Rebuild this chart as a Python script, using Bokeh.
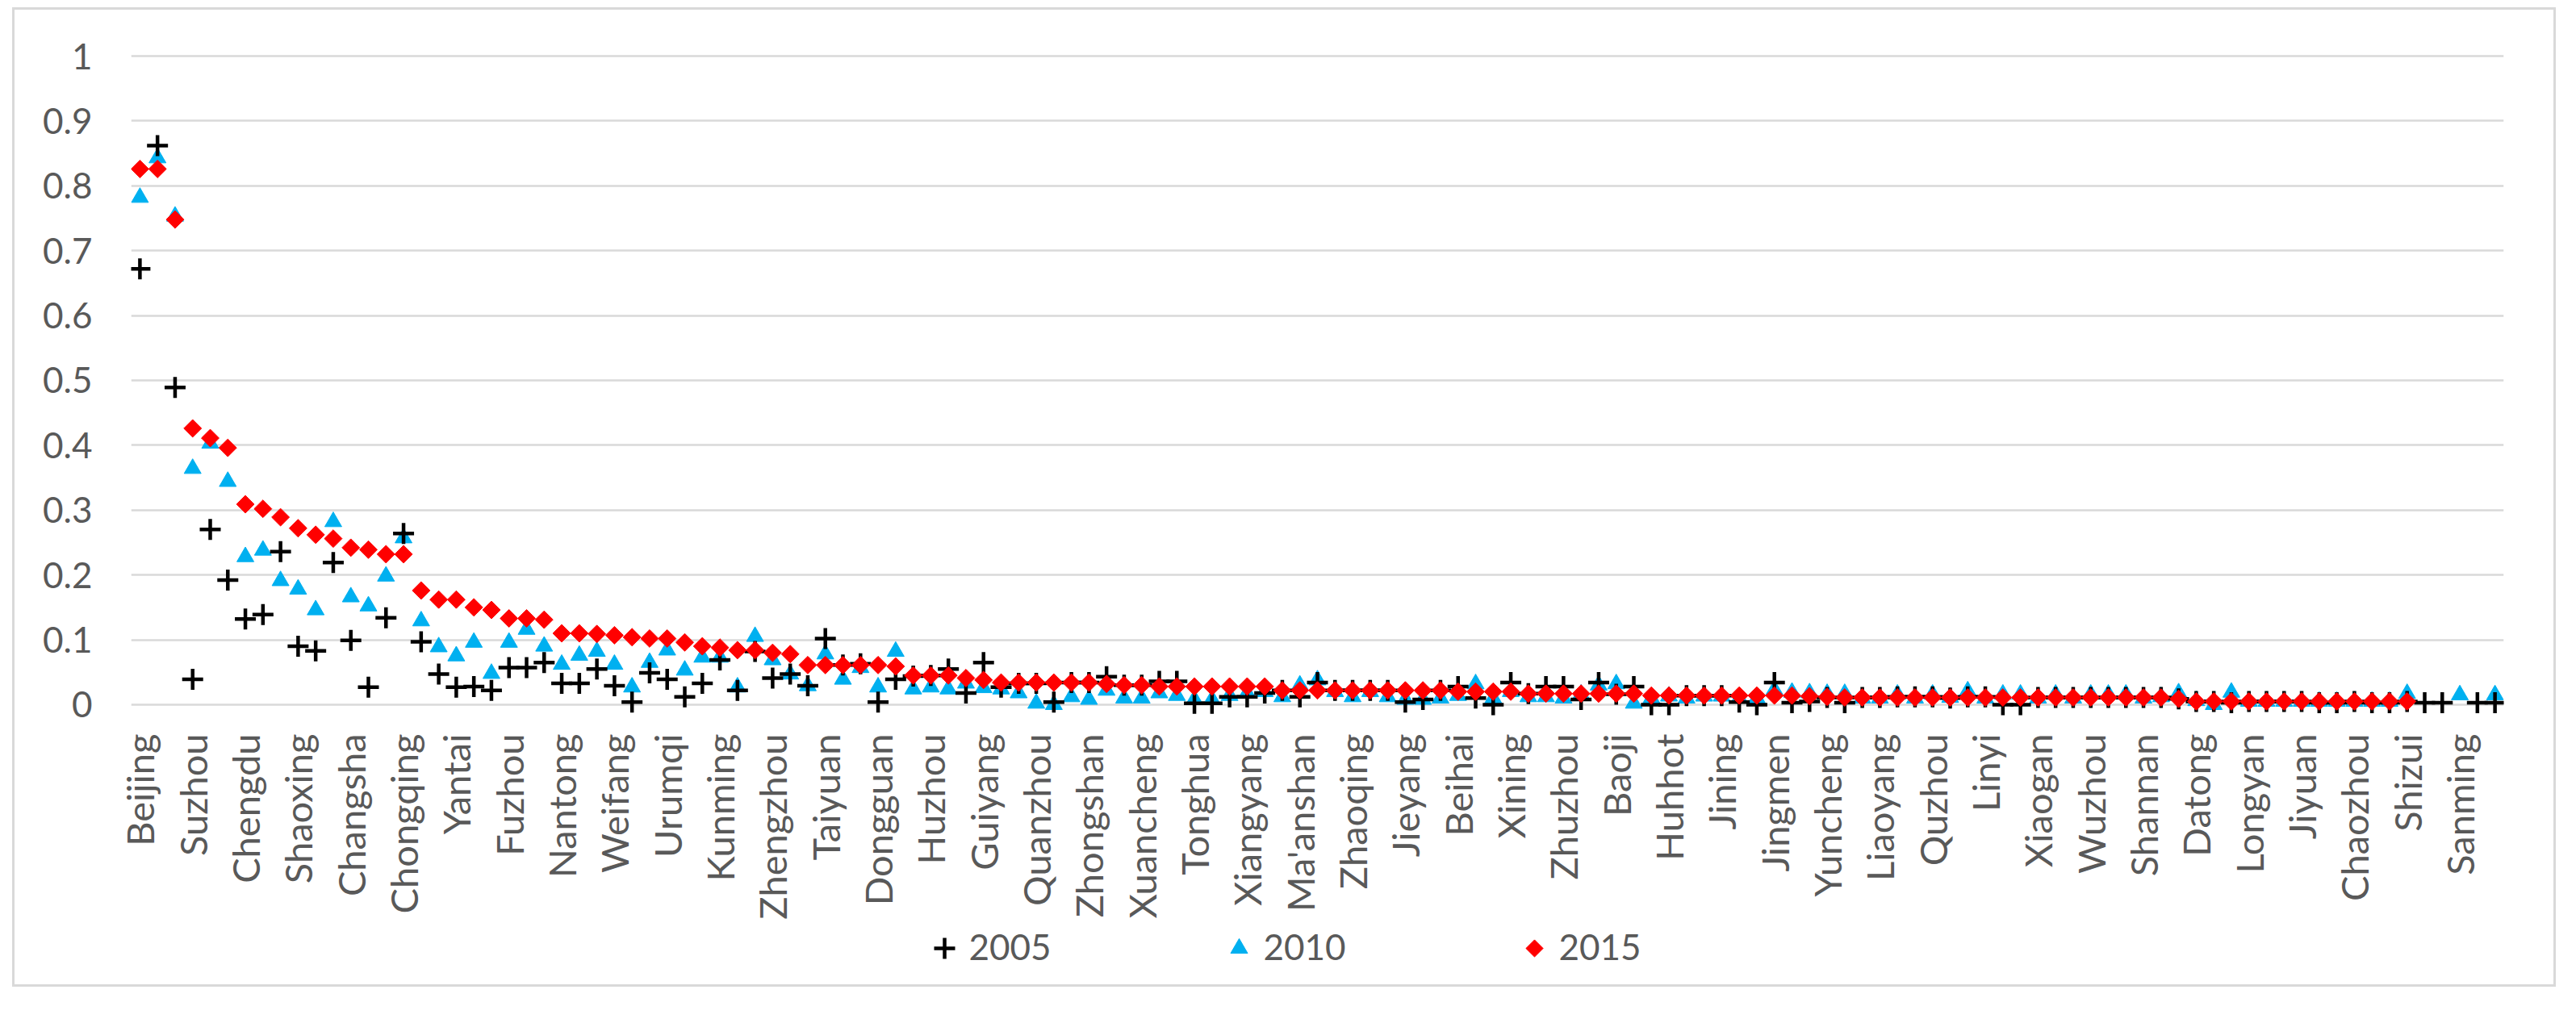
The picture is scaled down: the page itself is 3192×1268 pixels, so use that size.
import math
import numpy as np
from bokeh.plotting import figure
from bokeh.layouts import column, row
from bokeh.models import FixedTicker, NumeralTickFormatter, ColumnDataSource, Range1d
from bokeh.core.properties import value
from bokeh.embed import file_html
from bokeh.resources import INLINE

# ---------------- data ----------------
# labelled cities (every third category is labelled on the axis)
cities = ["Beijing", "Suzhou", "Chengdu", "Shaoxing", "Changsha", "Chongqing",
          "Yantai", "Fuzhou", "Nantong", "Weifang", "Urumqi", "Kunming",
          "Zhengzhou", "Taiyuan", "Dongguan", "Huzhou", "Guiyang", "Quanzhou",
          "Zhongshan", "Xuancheng", "Tonghua", "Xiangyang", "Ma'anshan",
          "Zhaoqing", "Jieyang", "Beihai", "Xining", "Zhuzhou", "Baoji",
          "Huhhot", "Jining", "Jingmen", "Yuncheng", "Liaoyang", "Quzhou",
          "Linyi", "Xiaogan", "Wuzhou", "Shannan", "Datong", "Longyan",
          "Jiyuan", "Chaozhou", "Shizui", "Sanming"]
label_step = 3
nan = float("nan")

y2005 = [0.672, 0.862, 0.489, 0.039, 0.270, 0.192, 0.132, 0.139, 0.236, 0.090,
         0.083, 0.219, 0.099, 0.027, 0.134, 0.264, 0.097, 0.047, 0.027, 0.028,
         0.022, 0.057, 0.057, 0.065, 0.033, 0.033, 0.055, 0.029, 0.004, 0.049,
         0.039, 0.012, 0.033, 0.069, 0.022, 0.082, 0.041, 0.047, 0.029, 0.102,
         0.061, 0.063, 0.004, 0.039, 0.044, 0.045, 0.055, 0.018, 0.065, 0.027,
         0.033, 0.033, 0.004, 0.034, 0.034, 0.043, 0.030, 0.030, 0.036, 0.036,
         0.002, 0.002, 0.012, 0.012, 0.018, 0.022, 0.012, 0.034, 0.022, 0.022,
         0.022, 0.022, 0.004, 0.008, 0.022, 0.028, 0.010, 0.000, 0.034, 0.017,
         0.028, 0.028, 0.008, 0.034, 0.016, 0.028, 0.000, 0.000, 0.014, 0.014,
         0.014, 0.004, 0.000, 0.034, 0.003, 0.005, 0.011, 0.003, 0.011, 0.011,
         0.012, 0.012, 0.012, 0.010, 0.012, 0.012, 0.000, 0.000, 0.011, 0.011,
         0.011, 0.011, 0.011, 0.011, 0.011, 0.011, 0.009, 0.005, 0.005, 0.003,
         0.005, 0.005, 0.005, 0.005, 0.003, 0.003, 0.005, 0.003, 0.003, 0.005,
         0.003, 0.003, nan, 0.003, 0.003]

y2010 = [0.782, 0.843, 0.753, 0.364, 0.403, 0.344, 0.228, 0.238, 0.191, 0.178,
         0.146, 0.282, 0.166, 0.152, 0.198, 0.257, 0.129, 0.089, 0.075, 0.096,
         0.048, 0.096, 0.116, 0.090, 0.062, 0.076, 0.082, 0.062, 0.027, 0.065,
         0.084, 0.053, 0.073, 0.073, 0.027, 0.105, 0.069, 0.047, 0.029, 0.078,
         0.039, 0.057, 0.027, 0.082, 0.024, 0.027, 0.024, 0.033, 0.026, 0.024,
         0.018, 0.002, 0.000, 0.012, 0.008, 0.022, 0.010, 0.010, 0.018, 0.014,
         0.008, 0.008, 0.014, 0.018, 0.020, 0.012, 0.030, 0.038, 0.020, 0.012,
         0.020, 0.012, 0.008, 0.008, 0.010, 0.014, 0.032, 0.010, 0.020, 0.012,
         0.012, 0.010, 0.016, 0.030, 0.032, 0.002, 0.010, 0.013, 0.010, 0.013,
         0.013, 0.010, 0.010, 0.023, 0.019, 0.018, 0.017, 0.017, 0.010, 0.010,
         0.016, 0.010, 0.016, 0.011, 0.021, 0.010, 0.016, 0.016, 0.010, 0.016,
         0.010, 0.016, 0.016, 0.016, 0.010, 0.012, 0.018, 0.006, 0.000, 0.019,
         0.005, 0.005, 0.005, 0.005, 0.005, 0.005, 0.005, 0.005, 0.005, 0.017,
         nan, nan, 0.015, nan, 0.015]

y2015 = [0.826, 0.826, 0.748, 0.426, 0.411, 0.396, 0.309, 0.302, 0.289, 0.272,
         0.262, 0.256, 0.242, 0.239, 0.232, 0.232, 0.176, 0.162, 0.162, 0.150,
         0.146, 0.133, 0.133, 0.131, 0.110, 0.110, 0.109, 0.107, 0.104, 0.102,
         0.102, 0.096, 0.090, 0.088, 0.084, 0.084, 0.080, 0.078, 0.061, 0.061,
         0.061, 0.061, 0.061, 0.059, 0.045, 0.045, 0.045, 0.041, 0.038, 0.034,
         0.034, 0.034, 0.034, 0.034, 0.034, 0.032, 0.030, 0.030, 0.028, 0.028,
         0.028, 0.028, 0.028, 0.028, 0.028, 0.022, 0.022, 0.022, 0.022, 0.022,
         0.022, 0.022, 0.022, 0.022, 0.022, 0.020, 0.020, 0.020, 0.020, 0.017,
         0.017, 0.017, 0.017, 0.017, 0.017, 0.017, 0.014, 0.014, 0.014, 0.014,
         0.014, 0.014, 0.014, 0.014, 0.014, 0.013, 0.012, 0.011, 0.011, 0.011,
         0.011, 0.011, 0.011, 0.011, 0.011, 0.011, 0.011, 0.011, 0.011, 0.011,
         0.011, 0.011, 0.011, 0.011, 0.011, 0.011, 0.009, 0.005, 0.005, 0.005,
         0.005, 0.005, 0.005, 0.005, 0.005, 0.005, 0.005, 0.005, 0.005, 0.005,
         nan, nan, nan, nan, nan]

y_ticks = [0, 0.1, 0.2, 0.3, 0.4, 0.5, 0.6, 0.7, 0.8, 0.9, 1.0]
series_names = ["2005", "2010", "2015"]

# ---------------- styling / layout constants ----------------
FONT = "Lato"
TXT = "#595959"
GRID = "#d9d9d9"
BOX = "#d9d9d9"
C2005, C2010, C2015 = "black", "#00B0F0", "#FF0000"

OFF_X, OFF_Y = 15, 9                      # page offset of the chart box
BOX_W, BOX_H, BW = 3152, 1214, 3          # chart box and its border width
IN_W = BOX_W - 2 * BW
IN_H = BOX_H - 2 * BW
MAIN_H = 1130
LEG_H = IN_H - MAIN_H
ML, MR = 144, 62                          # frame borders inside the box


def block(w, h, color):
    f = figure(width=w, height=h, title=None, output_backend="svg",
               toolbar_location=None, x_axis_type=None, y_axis_type=None,
               min_border=0, x_range=Range1d(0, 1), y_range=Range1d(0, 1))
    f.background_fill_color = color
    f.border_fill_color = color
    f.outline_line_color = None
    f.xgrid.grid_line_color = None
    f.ygrid.grid_line_color = None
    return f


# ---------------- main figure ----------------
n = len(y2005)
src = ColumnDataSource(dict(x=np.arange(n),
                            y2005=np.array(y2005, dtype=float),
                            y2010=np.array(y2010, dtype=float),
                            y2015=np.array(y2015, dtype=float)))

p = figure(width=IN_W, height=MAIN_H, title=None, output_backend="svg",
           toolbar_location=None,
           x_range=Range1d(-0.5, n - 0.5), y_range=Range1d(-0.025, 1.02),
           min_border_left=ML, min_border_right=MR, min_border_top=41,
           min_border_bottom=238)
p.background_fill_color = "white"
p.border_fill_color = "white"
p.outline_line_color = None

# draw order: triangles underneath, crosses, diamonds on top
p.scatter("x", "y2010", source=src, marker="triangle", size=21,
          fill_color=C2010, line_color=C2010, line_width=1)
p.scatter("x", "y2005", source=src, marker="cross", size=26,
          line_color=C2005, line_width=4.5)
p.scatter("x", "y2015", source=src, marker="square", angle=math.pi / 4,
          size=15.5, fill_color=C2015, line_color=C2015, line_width=1)

p.yaxis.ticker = FixedTicker(ticks=y_ticks)
p.yaxis.formatter = NumeralTickFormatter(format="0.[0]")
p.yaxis.axis_line_color = None
p.yaxis.major_tick_line_color = None
p.yaxis.minor_tick_line_color = None
p.yaxis.major_tick_out = 0
p.yaxis.major_label_standoff = 48
p.yaxis.major_label_text_font = FONT
p.yaxis.major_label_text_font_size = "44px"
p.yaxis.major_label_text_color = TXT

p.ygrid.ticker = FixedTicker(ticks=y_ticks)
p.ygrid.grid_line_color = GRID
p.ygrid.grid_line_width = 2.5
p.xgrid.grid_line_color = None

tick_pos = [i * label_step for i in range(len(cities))]
p.xaxis.ticker = FixedTicker(ticks=tick_pos)
p.xaxis.major_label_overrides = {t: c for t, c in zip(tick_pos, cities)}
p.xaxis.major_label_orientation = math.pi / 2
p.xaxis.axis_line_color = None
p.xaxis.major_tick_line_color = None
p.xaxis.minor_tick_line_color = None
p.xaxis.major_tick_out = 0
p.xaxis.major_label_standoff = 16
p.xaxis.major_label_text_font = FONT
p.xaxis.major_label_text_font_size = "47px"
p.xaxis.major_label_text_color = TXT

# ---------------- legend strip ----------------
# its frame is aligned with the main frame; x measured in page pixels
FR_L = OFF_X + BW + ML
FR_R = OFF_X + BW + IN_W - MR
leg = figure(width=IN_W, height=LEG_H, title=None, output_backend="svg",
             toolbar_location=None,
             x_range=Range1d(FR_L, FR_R), y_range=Range1d(0, LEG_H),
             x_axis_type=None, y_axis_type=None,
             min_border_left=ML, min_border_right=MR, min_border_top=0,
             min_border_bottom=0)
leg.background_fill_color = "white"
leg.border_fill_color = "white"
leg.outline_line_color = None
leg.xgrid.grid_line_color = None
leg.ygrid.grid_line_color = None

leg_marker_x = [1170, 1535, 1901]
leg_y = LEG_H - 33
leg.scatter([leg_marker_x[0]], [leg_y], marker="cross", size=26,
            line_color=C2005, line_width=4.5)
leg.scatter([leg_marker_x[1]], [leg_y], marker="triangle", size=21,
            fill_color=C2010, line_color=C2010)
leg.scatter([leg_marker_x[2]], [leg_y], marker="square", angle=math.pi / 4,
            size=15, fill_color=C2015, line_color=C2015)
leg.text(x=[mx + 30 for mx in leg_marker_x], y=[leg_y + 2] * 3, text=series_names,
         text_font=value(FONT), text_font_size="44px", text_color=TXT,
         text_align="left", text_baseline="middle")

# ---------------- box with border, offset on the page ----------------
box = column(block(BOX_W, BW, BOX),
             row(block(BW, IN_H, BOX), column(p, leg), block(BW, IN_H, BOX)),
             block(BOX_W, BW, BOX))
box.styles = {"outline": "3px solid #d9d9d9", "outline-offset": "-3px"}
layout = column(block(OFF_X + BOX_W, OFF_Y, "white"),
                row(block(OFF_X, BOX_H, "white"), box))
open("out.html", "w").write(file_html(layout, INLINE))
